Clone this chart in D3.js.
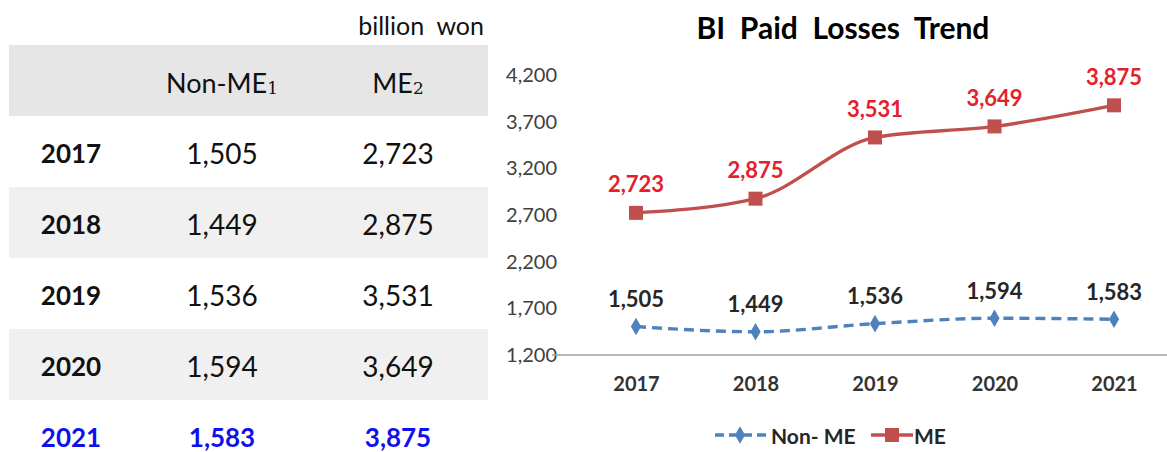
<!DOCTYPE html>
<html><head><meta charset="utf-8">
<script src="https://cdn.jsdelivr.net/npm/d3@7"></script>
<style>
html,body{margin:0;padding:0;background:#fff;}
svg{display:block;font-family:Lato,"Open Sans",sans-serif;}
text{white-space:pre;}
</style></head>
<body><svg id="c" width="1167" height="452"></svg>
<script>
const years = ["2017","2018","2019","2020","2021"];
const nonME = [1505, 1449, 1536, 1594, 1583];
const me = [2723, 2875, 3531, 3649, 3875];
const yTicks = [1200, 1700, 2200, 2700, 3200, 3700, 4200];
const unitLabel = "billion  won";
const chartTitle = "BI  Paid  Losses  Trend";
const seriesNames = ["Non- ME", "ME"];

const svg = d3.select("#c");
const fmt = d3.format(",");

// ---------- Table ----------
const rowTop = 45, rowH = 71, tblL = 9, tblR = 488;
const colX = {year: 71, non: 222, me: 398};
svg.append("text").attr("x", 484).attr("y", 25).attr("text-anchor","end")
  .attr("dominant-baseline","central").attr("font-size", 25).attr("fill","#111").text(unitLabel);
svg.append("rect").attr("x", tblL).attr("y", rowTop).attr("width", tblR - tblL).attr("height", rowH).attr("fill", "#e6e6e6");
const hdr = [{x: colX.non, t: "Non-ME", s: "1"}, {x: colX.me, t: "ME", s: "2"}];
hdr.forEach(h => {
  const t = svg.append("text").attr("x", h.x).attr("y", rowTop + rowH/2 + 1).attr("text-anchor","middle")
    .attr("dominant-baseline","central").attr("font-size", 27).attr("fill","#111");
  t.append("tspan").text(h.t);
  t.append("tspan").attr("font-family","'DejaVu Serif','Liberation Serif',serif").attr("font-size",17).attr("dy",6).text(h.s);
});
years.forEach((y, i) => {
  const top = rowTop + rowH * (i + 1);
  if (i % 2 === 1) svg.append("rect").attr("x", tblL).attr("y", top).attr("width", tblR - tblL).attr("height", rowH).attr("fill", "#f0f0f0");
  const last = i === years.length - 1;
  const col = last ? "#1010ee" : "#111";
  const cy = top + rowH/2 + 1;
  svg.append("text").attr("x", colX.year).attr("y", cy).attr("text-anchor","middle").attr("dominant-baseline","central")
    .attr("font-size", 26).attr("font-weight","bold").attr("fill", col).text(y);
  svg.append("text").attr("x", colX.non).attr("y", cy).attr("text-anchor","middle").attr("dominant-baseline","central")
    .attr("font-size", last ? 26 : 28).attr("font-weight", last ? "bold" : "normal").attr("fill", col).text(fmt(nonME[i]));
  svg.append("text").attr("x", colX.me).attr("y", cy).attr("text-anchor","middle").attr("dominant-baseline","central")
    .attr("font-size", last ? 26 : 28).attr("font-weight", last ? "bold" : "normal").attr("fill", col).text(fmt(me[i]));
});

// ---------- Chart ----------
const x = d3.scalePoint().domain(years).range([636, 1114]);
const y = d3.scaleLinear().domain([1200, 4200]).range([355, 75]);

svg.append("text").attr("x", 843).attr("y", 27).attr("text-anchor","middle").attr("dominant-baseline","central")
  .attr("font-size", 30).attr("font-weight","bold").attr("fill","#000").text(chartTitle);

const yAxis = svg.append("g").attr("transform","translate(557,0)")
  .call(d3.axisLeft(y).tickValues(yTicks).tickFormat(fmt).tickSize(0).tickPadding(0));
yAxis.select(".domain").remove();
yAxis.selectAll("text").attr("font-size", 20).attr("fill","#404040").attr("font-family","Lato,'Open Sans',sans-serif");

svg.append("line").attr("x1", 552).attr("x2", 1167).attr("y1", y(1200)).attr("y2", y(1200))
  .attr("stroke","#a0a0a0").attr("stroke-width",1.3);

const xAxis = svg.append("g").attr("transform", `translate(0,${y(1200)})`)
  .call(d3.axisBottom(x).tickSize(0).tickPadding(22));
xAxis.select(".domain").remove();
xAxis.selectAll("text").attr("font-size", 20).attr("font-weight","bold").attr("fill","#333").attr("font-family","Lato,'Open Sans',sans-serif");

const line = d3.line().x((d,i) => x(years[i])).y(d => y(d)).curve(d3.curveMonotoneX);

const blue = "#4f81bd", red = "#c0504d";
svg.append("path").datum(nonME).attr("d", line).attr("fill","none").attr("stroke", blue)
  .attr("stroke-width", 3.4).attr("stroke-dasharray","10,6");
svg.append("path").datum(me).attr("d", line).attr("fill","none").attr("stroke", red).attr("stroke-width", 3.4);

const diamond = d3.symbol().type(d3.symbolDiamond).size(90);
svg.selectAll(".dm").data(nonME).join("path").attr("d", diamond)
  .attr("transform", (d,i) => `translate(${x(years[i])},${y(d)})`).attr("fill", blue);
svg.selectAll(".sq").data(me).join("rect")
  .attr("x", (d,i) => x(years[i]) - 7).attr("y", d => y(d) - 7).attr("width", 14).attr("height", 14).attr("fill", red);

svg.selectAll(".ln").data(nonME).join("text").attr("x", (d,i) => x(years[i])).attr("y", d => y(d) - 28)
  .attr("text-anchor","middle").attr("dominant-baseline","central").attr("font-size", 22).attr("font-weight","bold")
  .attr("fill","#262626").text(d => fmt(d));
svg.selectAll(".lm").data(me).join("text").attr("x", (d,i) => x(years[i])).attr("y", d => y(d) - 29)
  .attr("text-anchor","middle").attr("dominant-baseline","central").attr("font-size", 22).attr("font-weight","bold")
  .attr("fill","#e5202a").text(d => fmt(d));

// Legend
const ly = 435;
const lg = svg.append("g");
lg.append("line").attr("x1", 715).attr("x2", 766).attr("y1", ly).attr("y2", ly).attr("stroke", blue)
  .attr("stroke-width", 3.4).attr("stroke-dasharray","9,5");
lg.append("path").attr("d", diamond).attr("transform", `translate(740,${ly})`).attr("fill", blue);
lg.append("text").attr("x", 771).attr("y", ly).attr("dominant-baseline","central").attr("font-size", 21)
  .attr("font-weight","bold").attr("fill","#262626").text(seriesNames[0]);
lg.append("line").attr("x1", 871).attr("x2", 913).attr("y1", ly).attr("y2", ly).attr("stroke", red).attr("stroke-width", 3.4);
lg.append("rect").attr("x", 885).attr("y", ly - 7).attr("width", 14).attr("height", 14).attr("fill", red);
lg.append("text").attr("x", 914).attr("y", ly).attr("dominant-baseline","central").attr("font-size", 21)
  .attr("font-weight","bold").attr("fill","#262626").text(seriesNames[1]);
</script></body></html>
